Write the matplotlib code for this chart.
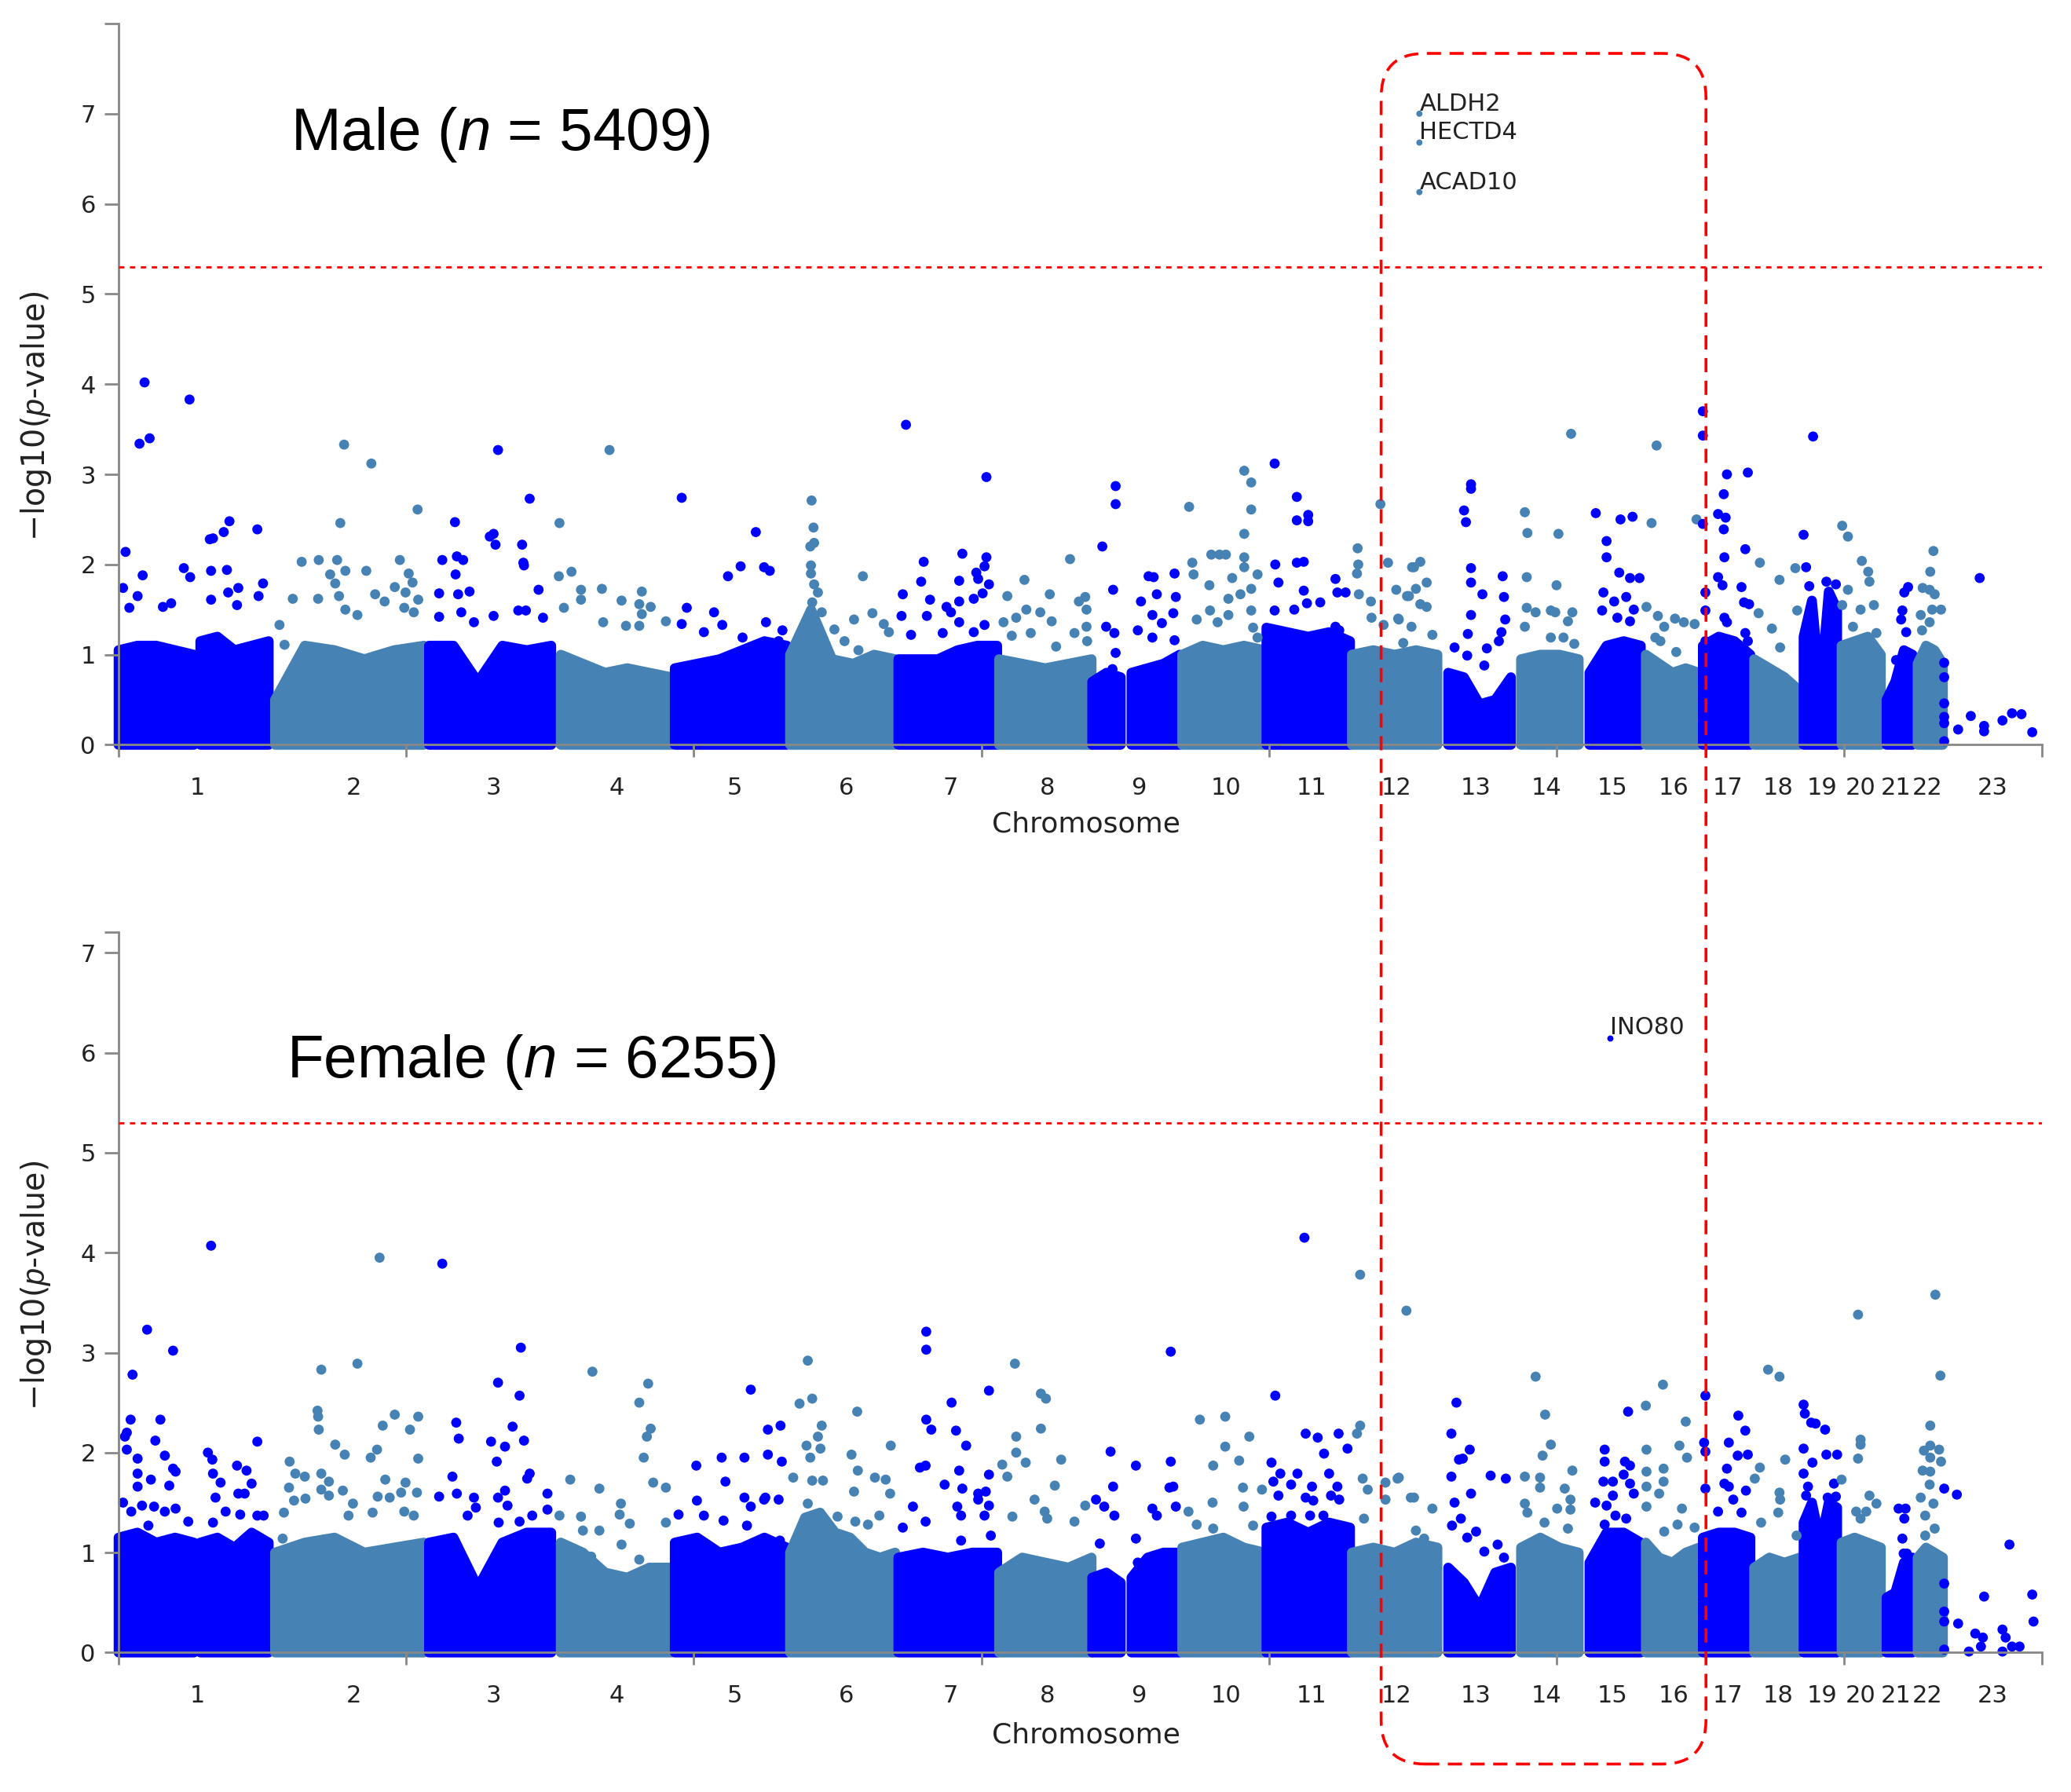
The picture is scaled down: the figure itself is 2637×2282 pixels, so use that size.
import numpy as np
import matplotlib
matplotlib.use("Agg")
import matplotlib.pyplot as plt
from matplotlib.patches import FancyBboxPatch
from matplotlib.transforms import IdentityTransform

plt.rcParams["font.family"] = ["DejaVu Sans"]
plt.rcParams["mathtext.fontset"] = "custom"
plt.rcParams["mathtext.rm"] = "Liberation Sans"
plt.rcParams["mathtext.it"] = "Liberation Sans:italic"

# chromosome sizes in Mb (hg19), 23 = X
chrom_names = [str(i) for i in range(1, 24)]
chrom_len = [249.3, 243.2, 198.0, 191.2, 180.9, 171.1, 159.1, 146.4, 141.2, 135.5, 135.0, 133.9,
             115.2, 107.3, 102.5, 90.4, 81.2, 78.1, 59.1, 63.0, 48.1, 51.3, 155.3]
threshold = 5.3  # -log10(5e-6)

# dense block of SNPs per chromosome: extent (genome Mb) and height of its top edge
core_start = [0, 129, 247, 490, 698, 878, 1060, 1231, 1390, 1537, 1599, 1679,
              1812, 1947, 2099, 2214, 2322, 2411, 2501, 2582, 2660, 2720, 2791, 2840]
core_end = [119, 237, 482, 683, 873, 1055, 1226, 1387, 1536, 1582, 1675, 1809,
            1944, 2082, 2198, 2305, 2403, 2495, 2576, 2654, 2713, 2782, 2832, 2880]
male_core = [
    [1.05, 1.1, 1.1, 1.05, 1.0], [1.15, 1.2, 1.05, 1.1, 1.15], [0.5, 1.1, 1.05, 0.95, 1.05, 1.1],
    [1.1, 1.1, 0.7, 1.1, 1.05, 1.1], [1.0, 0.9, 0.8, 0.85, 0.8, 0.75], [0.85, 0.9, 0.95, 1.05, 1.15, 1.1],
    [1.0, 1.5, 0.95, 0.9, 1.0, 0.95], [0.95, 0.95, 0.95, 1.05, 1.1, 1.1], [0.95, 0.9, 0.85, 0.9, 0.95],
    [0.7, 0.8, 0.75], [0.8, 0.85, 0.9, 1.0], [1.0, 1.1, 1.05, 1.1, 1.05],
    [1.3, 1.25, 1.2, 1.25, 1.15], [1.0, 1.05, 1.0, 1.05, 1.0], [0.8, 0.75, 0.45, 0.5, 0.75],
    [0.95, 1.0, 1.0, 0.95], [0.8, 1.1, 1.15, 1.1], [1.0, 0.9, 0.8, 0.85, 0.8],
    [1.1, 1.2, 1.15, 1.0], [0.95, 0.85, 0.75, 0.6], [1.2, 1.6, 0.6, 1.7, 1.5],
    [1.1, 1.15, 1.2, 1.0], [0.5, 0.7, 1.05, 1.0], [0.9, 1.1, 1.05, 0.9]]
female_core = [
    [1.15, 1.2, 1.1, 1.15, 1.1], [1.1, 1.15, 1.05, 1.2, 1.1], [1.0, 1.1, 1.15, 1.0, 1.05, 1.1],
    [1.1, 1.15, 0.65, 1.1, 1.2, 1.2], [1.1, 1.0, 0.8, 0.75, 0.85, 0.85], [1.1, 1.15, 1.0, 1.05, 1.15, 1.05],
    [1.0, 1.35, 1.4, 1.2, 1.15, 1.0, 0.95, 1.0], [0.95, 1.0, 0.95, 1.0, 1.0], [0.8, 0.95, 0.9, 0.85, 0.95],
    [0.75, 0.8, 0.7], [0.75, 0.95, 1.0, 1.0], [1.05, 1.1, 1.15, 1.05, 1.0],
    [1.25, 1.3, 1.2, 1.3, 1.25], [1.0, 1.05, 1.0, 1.1, 1.05], [0.85, 0.7, 0.45, 0.8, 0.85],
    [1.05, 1.15, 1.05, 1.0], [0.9, 1.2, 1.2, 1.1], [1.1, 0.95, 0.9, 1.0, 1.05],
    [1.15, 1.2, 1.2, 1.15], [0.85, 0.95, 0.9, 0.95], [1.3, 1.5, 1.1, 1.5, 1.45],
    [1.1, 1.15, 1.1, 1.05], [0.55, 0.6, 0.9, 0.95], [0.95, 1.05, 1.0, 0.95]]

# SNPs standing out above the dense block: (genome position in Mb, -log10 p)
male_snps = [
    (41, 4.02), (33, 3.34), (49, 3.40), (112, 3.83), (11, 2.14), (144, 2.28), (149, 2.29), (166, 2.36),
    (175, 2.48), (219, 2.39), (7, 1.74), (38, 1.88), (103, 1.96), (113, 1.86), (146, 1.93), (171, 1.94),
    (228, 1.79), (221, 1.65), (189, 1.74), (173, 1.69), (146, 1.61), (187, 1.55), (30, 1.65), (17, 1.52),
    (70, 1.53), (83, 1.57),
    (356, 3.33), (399, 3.12), (472, 2.61), (350, 2.46), (289, 2.03), (316, 2.05), (345, 2.05), (444, 2.05),
    (334, 1.89), (342, 1.79), (358, 1.93), (391, 1.93), (458, 1.90), (464, 1.80), (348, 1.65), (436, 1.75),
    (453, 1.69), (473, 1.61), (275, 1.62), (315, 1.62), (358, 1.50), (377, 1.44), (405, 1.67), (420, 1.59),
    (451, 1.52), (466, 1.47), (254, 1.33), (262, 1.11),
    (599, 3.27), (649, 2.73), (531, 2.47), (592, 2.34), (595, 2.22), (586, 2.31), (637, 2.22), (640, 1.99),
    (639, 2.02), (511, 2.05), (534, 2.09), (544, 2.05), (532, 1.89), (663, 1.72), (506, 1.68), (536, 1.67),
    (554, 1.70), (631, 1.49), (643, 1.49), (506, 1.42), (592, 1.43), (670, 1.41), (541, 1.47), (561, 1.36),
    (775, 3.27), (696, 2.46), (695, 1.87), (715, 1.92), (730, 1.72), (763, 1.73), (826, 1.70), (730, 1.61),
    (794, 1.60), (822, 1.56), (840, 1.53), (703, 1.52), (864, 1.37), (765, 1.36), (801, 1.32), (822, 1.32),
    (826, 1.45),
    (889, 2.74), (1006, 2.36), (982, 1.98), (1019, 1.97), (1028, 1.93), (962, 1.87), (897, 1.52), (940, 1.47),
    (889, 1.34), (924, 1.25), (953, 1.33), (985, 1.19), (1022, 1.36), (1048, 1.27), (1042, 1.15),
    (1094, 2.71), (1097, 2.41), (1092, 2.20), (1098, 2.24), (1093, 1.99), (1093, 1.90), (1098, 1.78),
    (1104, 1.69), (1095, 1.58), (1110, 1.47), (1175, 1.87), (1130, 1.28), (1161, 1.39), (1146, 1.15),
    (1190, 1.46), (1208, 1.34), (1216, 1.25), (1070, 1.08), (1168, 1.05),
    (1243, 3.55), (1370, 2.97), (1332, 2.12), (1271, 2.03), (1370, 2.08), (1367, 1.98), (1267, 1.81),
    (1327, 1.82), (1354, 1.91), (1357, 1.84), (1374, 1.78), (1238, 1.67), (1364, 1.68), (1236, 1.43),
    (1276, 1.43), (1281, 1.61), (1307, 1.53), (1327, 1.59), (1314, 1.47), (1350, 1.62), (1367, 1.33),
    (1350, 1.25), (1251, 1.22), (1301, 1.24), (1327, 1.36),
    (1502, 2.06), (1430, 1.83), (1470, 1.67), (1403, 1.65), (1433, 1.50), (1455, 1.47), (1526, 1.64),
    (1516, 1.59), (1528, 1.50), (1397, 1.36), (1417, 1.41), (1473, 1.37), (1509, 1.24), (1528, 1.31),
    (1529, 1.15), (1410, 1.21), (1440, 1.24), (1480, 1.09),
    (1553, 2.20), (1574, 2.87), (1574, 2.67), (1570, 1.72), (1559, 1.31), (1572, 1.24), (1574, 1.02),
    (1569, 0.84), (1614, 1.59), (1626, 1.87), (1634, 1.86), (1667, 1.90), (1669, 1.64), (1639, 1.67),
    (1632, 1.44), (1647, 1.35), (1665, 1.46), (1609, 1.27), (1632, 1.19), (1667, 1.16),
    (1690, 2.64), (1777, 3.04), (1788, 2.91), (1788, 2.61), (1777, 2.34), (1695, 2.02), (1725, 2.11),
    (1738, 2.11), (1748, 2.11), (1777, 2.08), (1777, 1.97), (1697, 1.89), (1758, 1.85), (1798, 1.89),
    (1788, 1.73), (1771, 1.67), (1722, 1.77), (1752, 1.62), (1723, 1.49), (1788, 1.49), (1752, 1.44),
    (1702, 1.39), (1735, 1.36), (1791, 1.30), (1798, 1.19),
    (1825, 3.12), (1860, 2.75), (1860, 2.49), (1878, 2.55), (1878, 2.48), (1826, 2.00), (1860, 2.02),
    (1871, 2.03), (1921, 1.84), (1924, 1.69), (1937, 1.69), (1825, 1.49), (1831, 1.80), (1871, 1.71),
    (1876, 1.57), (1897, 1.58), (1856, 1.50), (1921, 1.31), (1927, 1.27), (1904, 1.15),
    (1992, 2.67), (1956, 2.18), (1957, 2.00), (1955, 1.90), (1958, 1.67), (1977, 1.59), (1978, 1.41),
    (2004, 2.02), (2017, 1.72), (2037, 1.65), (2042, 1.97), (2020, 1.40), (1997, 1.33), (2055, 2.03),
    (2045, 1.97), (2048, 1.73), (2065, 1.80), (2034, 1.65), (2055, 1.56), (2065, 1.53), (2021, 1.39),
    (2074, 1.22), (2028, 1.13), (2041, 1.31),
    (2135, 2.89), (2135, 2.84), (2124, 2.60), (2127, 2.47), (2135, 1.96), (2135, 1.80), (2185, 1.87),
    (2187, 1.64), (2153, 1.67), (2189, 1.39), (2135, 1.44), (2130, 1.23), (2109, 1.08), (2160, 1.07),
    (2129, 0.99), (2156, 0.88), (2183, 1.25), (2179, 1.15),
    (2293, 3.45), (2220, 2.58), (2224, 2.35), (2273, 2.34), (2223, 1.86), (2270, 1.77), (2223, 1.52),
    (2237, 1.47), (2261, 1.49), (2268, 1.47), (2295, 1.47), (2288, 1.37), (2298, 1.12), (2220, 1.31),
    (2261, 1.19), (2281, 1.19),
    (2332, 2.57), (2371, 2.50), (2390, 2.53), (2349, 2.26), (2349, 2.08), (2369, 1.91), (2386, 1.85),
    (2401, 1.85), (2344, 1.69), (2361, 1.59), (2380, 1.64), (2392, 1.50), (2342, 1.49), (2366, 1.41),
    (2386, 1.37),
    (2428, 3.32), (2420, 2.46), (2491, 2.50), (2412, 1.53), (2430, 1.43), (2440, 1.31), (2457, 1.40),
    (2471, 1.36), (2488, 1.34), (2426, 1.19), (2434, 1.15), (2459, 1.03),
    (2501, 3.70), (2501, 3.43), (2539, 3.00), (2572, 3.02), (2534, 2.78), (2525, 2.56), (2537, 2.52),
    (2534, 2.39), (2501, 2.45), (2568, 2.17), (2535, 2.08), (2525, 1.86), (2532, 1.77), (2562, 1.75),
    (2505, 1.69), (2566, 1.58), (2574, 1.56), (2505, 1.49), (2535, 1.41), (2539, 1.36), (2568, 1.24),
    (2572, 1.15), (2505, 1.15),
    (2591, 2.02), (2622, 1.83), (2610, 1.29), (2623, 1.08), (2650, 1.49), (2589, 1.46), (2647, 1.96),
    (2675, 3.42), (2660, 2.33), (2664, 1.97), (2669, 1.76), (2696, 1.81), (2711, 1.78),
    (2721, 2.43), (2730, 2.31), (2752, 2.04), (2762, 1.92), (2764, 1.81), (2730, 1.72), (2721, 1.55),
    (2750, 1.50), (2771, 1.55), (2775, 1.24), (2738, 1.31),
    (2825, 1.75), (2819, 1.69), (2816, 1.49), (2814, 1.39), (2822, 1.25), (2806, 0.94),
    (2865, 2.15), (2860, 1.92), (2848, 1.74), (2859, 1.72), (2867, 1.67), (2863, 1.50), (2877, 1.50),
    (2845, 1.44), (2859, 1.36), (2847, 1.27),
    (2882, 0.91), (2882, 0.75), (2882, 0.46), (2882, 0.31), (2882, 0.24), (2882, 0.04), (2904, 0.17),
    (2924, 0.32), (2938, 1.85), (2945, 0.21), (2945, 0.15), (2974, 0.27), (2989, 0.35), (3004, 0.34),
    (3021, 0.14)]

female_snps = [
    (146, 4.07), (45, 3.23), (86, 3.02), (22, 2.78), (19, 2.33), (66, 2.33), (13, 2.20), (10, 2.16),
    (58, 2.12), (13, 2.03), (30, 1.94), (73, 1.97), (86, 1.84), (90, 1.81), (30, 1.79), (51, 1.73),
    (80, 1.67), (30, 1.66), (141, 2.00), (148, 1.93), (149, 1.79), (161, 1.70), (187, 1.87), (202, 1.82),
    (210, 1.69), (219, 2.11), (153, 1.55), (189, 1.59), (199, 1.59), (169, 1.41), (192, 1.38), (219, 1.37),
    (229, 1.37), (149, 1.30), (7, 1.50), (20, 1.41), (37, 1.47), (56, 1.46), (73, 1.41), (90, 1.44),
    (47, 1.27), (110, 1.31), (108, 1.11),
    (412, 3.95), (377, 2.89), (320, 2.83), (314, 2.42), (315, 2.36), (316, 2.23), (436, 2.38), (473, 2.36),
    (417, 2.27), (460, 2.23), (342, 2.08), (357, 1.98), (398, 1.95), (408, 2.03), (473, 1.94), (270, 1.91),
    (279, 1.79), (294, 1.76), (320, 1.79), (332, 1.71), (421, 1.73), (453, 1.70), (269, 1.65), (320, 1.63),
    (332, 1.57), (354, 1.62), (370, 1.49), (409, 1.56), (428, 1.55), (446, 1.60), (471, 1.60), (277, 1.52),
    (295, 1.54), (261, 1.40), (259, 1.14), (363, 1.37), (401, 1.40), (451, 1.41), (466, 1.37),
    (511, 3.89), (635, 3.05), (599, 2.70), (633, 2.57), (533, 2.30), (537, 2.14), (622, 2.26), (640, 2.12),
    (588, 2.11), (610, 2.06), (597, 1.91), (649, 1.79), (645, 1.74), (527, 1.76), (506, 1.56), (534, 1.59),
    (561, 1.55), (599, 1.55), (610, 1.62), (677, 1.59), (564, 1.45), (551, 1.37), (614, 1.47), (677, 1.43),
    (653, 1.37), (600, 1.30), (633, 1.31),
    (748, 2.81), (836, 2.69), (822, 2.50), (840, 2.24), (834, 2.16), (829, 1.95), (844, 1.70), (864, 1.65),
    (713, 1.73), (759, 1.64), (793, 1.49), (791, 1.38), (807, 1.29), (864, 1.30), (696, 1.37), (730, 1.36),
    (733, 1.22), (759, 1.22), (794, 1.08), (746, 0.96), (822, 0.93),
    (998, 2.63), (1025, 2.23), (1025, 1.98), (912, 1.87), (952, 1.95), (988, 1.95), (958, 1.71), (913, 1.52),
    (988, 1.55), (998, 1.46), (1021, 1.55), (884, 1.38), (924, 1.37), (955, 1.32), (992, 1.27), (1045, 2.27),
    (1047, 1.91), (1019, 1.53), (1042, 1.53), (1044, 1.12),
    (1088, 2.92), (1095, 2.54), (1075, 2.49), (1110, 2.27), (1104, 2.16), (1086, 2.07), (1108, 2.04),
    (1166, 2.41), (1157, 1.98), (1167, 1.82), (1219, 2.07), (1194, 1.75), (1211, 1.73), (1161, 1.61),
    (1218, 1.59), (1065, 1.75), (1092, 1.95), (1095, 1.72), (1112, 1.72), (1088, 1.49), (1135, 1.36),
    (1163, 1.31), (1201, 1.37), (1183, 1.28),
    (1275, 3.21), (1275, 3.03), (1374, 2.62), (1315, 2.50), (1275, 2.33), (1283, 2.23), (1322, 2.22),
    (1338, 2.07), (1265, 1.85), (1274, 1.87), (1327, 1.82), (1374, 1.78), (1304, 1.68), (1332, 1.64),
    (1357, 1.59), (1369, 1.61), (1254, 1.46), (1324, 1.46), (1357, 1.53), (1374, 1.47), (1330, 1.37),
    (1367, 1.37), (1274, 1.31), (1238, 1.25), (1330, 1.12), (1377, 1.17),
    (1415, 2.89), (1456, 2.59), (1464, 2.54), (1417, 2.16), (1456, 2.24), (1417, 2.00), (1432, 1.90),
    (1395, 1.88), (1403, 1.76), (1488, 1.93), (1478, 1.67), (1446, 1.53), (1411, 1.36), (1462, 1.41),
    (1466, 1.34), (1526, 1.47), (1509, 1.31),
    (1566, 2.01), (1543, 1.53), (1556, 1.46), (1570, 1.66), (1572, 1.37), (1549, 1.09), (1661, 3.01),
    (1661, 1.91), (1606, 1.87), (1659, 1.65), (1665, 1.66), (1632, 1.44), (1669, 1.46), (1639, 1.37),
    (1606, 1.14), (1609, 0.90),
    (1707, 2.33), (1747, 2.36), (1747, 2.06), (1785, 2.16), (1728, 1.87), (1769, 1.92), (1727, 1.50),
    (1689, 1.41), (1776, 1.46), (1805, 1.63), (1775, 1.65), (1702, 1.28), (1728, 1.24), (1791, 1.27),
    (1872, 4.15), (1826, 2.57), (1874, 2.19), (1893, 2.15), (1926, 2.19), (1903, 1.99), (1940, 2.04),
    (1820, 1.90), (1834, 1.79), (1861, 1.79), (1823, 1.71), (1851, 1.68), (1884, 1.66), (1911, 1.79),
    (1924, 1.66), (1831, 1.57), (1874, 1.55), (1886, 1.52), (1914, 1.57), (1927, 1.53), (1820, 1.36),
    (1851, 1.37), (1881, 1.37), (1902, 1.37),
    (1960, 3.78), (2033, 3.42), (1960, 2.27), (1955, 2.19), (1964, 1.74), (1972, 1.63), (2000, 1.70),
    (2019, 1.74), (1966, 1.34), (2000, 1.53), (2040, 1.55), (2021, 1.75), (2045, 1.55), (2074, 1.44),
    (2048, 1.22), (2061, 1.14), (2072, 1.02),
    (2112, 2.50), (2104, 2.19), (2133, 2.03), (2122, 1.94), (2116, 1.93), (2104, 1.76), (2166, 1.77),
    (2190, 1.74), (2135, 1.59), (2109, 1.50), (2119, 1.34), (2105, 1.27), (2143, 1.21), (2129, 1.15),
    (2177, 1.08), (2187, 0.95), (2156, 1.01),
    (2237, 2.76), (2252, 2.38), (2261, 2.08), (2248, 1.97), (2295, 1.82), (2220, 1.76), (2244, 1.75),
    (2244, 1.65), (2283, 1.64), (2220, 1.49), (2224, 1.40), (2292, 1.53), (2292, 1.43), (2271, 1.44),
    (2251, 1.30), (2288, 1.24),
    (2383, 2.41), (2346, 2.03), (2346, 1.91), (2378, 1.91), (2386, 1.87), (2344, 1.71), (2359, 1.71),
    (2376, 1.78), (2386, 1.69), (2392, 1.59), (2359, 1.57), (2331, 1.50), (2349, 1.47), (2363, 1.37),
    (2346, 1.28), (2380, 1.34),
    (2438, 2.68), (2474, 2.31), (2411, 2.47), (2464, 2.07), (2476, 1.95), (2412, 2.03), (2412, 1.81),
    (2439, 1.84), (2439, 1.71), (2412, 1.66), (2432, 1.59), (2412, 1.46), (2468, 1.44), (2461, 1.28),
    (2488, 1.25), (2440, 1.21),
    (2505, 2.57), (2503, 2.10), (2505, 2.01), (2542, 2.10), (2557, 2.37), (2568, 2.22), (2556, 1.97),
    (2572, 1.98), (2539, 1.84), (2505, 1.64), (2535, 1.69), (2542, 1.66), (2569, 1.62), (2549, 1.53),
    (2562, 1.40), (2525, 1.41),
    (2604, 2.83), (2622, 2.76), (2591, 1.85), (2583, 1.74), (2631, 1.93), (2622, 1.60), (2623, 1.53),
    (2620, 1.40), (2593, 1.30), (2649, 1.17),
    (2660, 2.48), (2662, 2.39), (2672, 2.30), (2679, 2.29), (2694, 2.23), (2660, 2.04), (2674, 1.90),
    (2696, 1.98), (2713, 1.98), (2660, 1.79), (2667, 1.66), (2708, 1.69), (2698, 1.55), (2711, 1.56),
    (2664, 1.57),
    (2746, 3.38), (2750, 2.13), (2750, 2.08), (2746, 1.94), (2720, 1.73), (2764, 1.57), (2775, 1.49),
    (2743, 1.41), (2750, 1.34), (2759, 1.41),
    (2810, 1.44), (2821, 1.44), (2819, 1.34), (2816, 1.14), (2818, 0.99), (2799, 0.47), (2823, 0.99),
    (2868, 3.58), (2876, 2.77), (2860, 2.27), (2850, 2.02), (2860, 2.07), (2874, 2.03), (2877, 1.91),
    (2860, 1.95), (2848, 1.82), (2860, 1.81), (2859, 1.68), (2845, 1.55), (2865, 1.49), (2852, 1.37),
    (2867, 1.24), (2852, 1.17),
    (2882, 1.64), (2902, 1.58), (2882, 0.69), (2882, 0.41), (2882, 0.31), (2882, 0.03), (2904, 0.29),
    (2945, 0.56), (2931, 0.19), (2943, 0.15), (2940, 0.06), (2921, 0.01), (2985, 1.08), (2974, 0.23),
    (2979, 0.15), (2974, 0.01), (2989, 0.06), (3001, 0.06), (3021, 0.58), (3023, 0.31)]

# genome-wide significant hits with gene names
male_hit_pos = [2053.5, 2053.5, 2053.5]
male_hit_val = [7.00, 6.68, 6.13]
male_hit_gene = ["ALDH2", "HECTD4", "ACAD10"]
female_hit_pos = [2355]
female_hit_val = [6.15]
female_hit_gene = ["INO80"]

chrom_start = np.concatenate([[0], np.cumsum(chrom_len)[:-1]])
chrom_mid = chrom_start + np.array(chrom_len) / 2
genome_end = float(np.sum(chrom_len))
axis_ticks = [0, 454, 908, 1362, 1816, 2270, 2724, genome_end]

W, H = 2637, 2282
BLUE, STEEL = "#0000FF", "#4682B4"
GREY = "#888888"


def chrom_color(pos):
    idx = np.searchsorted(chrom_start, pos, side="right") - 1
    return BLUE if idx % 2 == 0 else STEEL


def draw_panel(ax, core, snps, hit_pos, hit_val, hit_gene, ytop, xlab_off):
    for s, e, h in zip(core_start, core_end, core):
        c = chrom_color((s + e) / 2)
        xs = np.concatenate([[s], np.linspace(s, e, len(h)), [e]])
        ys = np.concatenate([[0], h, [0]])
        ax.fill(xs, ys, facecolor=c, edgecolor=c, lw=9, joinstyle="round",
                clip_on=False, zorder=1)
    pos = [p for p, v in snps]
    val = [v for p, v in snps]
    ax.scatter(pos, val, s=85, c=[chrom_color(p) for p in pos], linewidths=0,
               clip_on=False, zorder=2)
    ax.scatter(hit_pos, hit_val, s=32, c=[chrom_color(p) for p in hit_pos],
               linewidths=0, clip_on=False, zorder=2)
    for p, v, g in zip(hit_pos, hit_val, hit_gene):
        ax.annotate(g, (p, v), xytext=(0, 3), textcoords="offset points",
                    fontsize=22, color="#222222", va="baseline", ha="left")

    ax.axhline(threshold, color="red", lw=2, linestyle=(0, (2.5, 2.5)), zorder=3)

    ax.set_xlim(0, genome_end)
    ax.set_ylim(0, ytop)
    for side in ["top", "right"]:
        ax.spines[side].set_visible(False)
    for side in ["left", "bottom"]:
        ax.spines[side].set_color(GREY)
        ax.spines[side].set_linewidth(2)

    ax.set_xticks(axis_ticks, labels=[""] * len(axis_ticks))
    ax.set_xticks(chrom_mid, labels=chrom_names, minor=True)
    ax.tick_params(axis="x", which="major", length=11.5, width=2, color=GREY)
    ax.tick_params(axis="x", which="minor", length=0, pad=29, labelsize=22,
                   labelcolor="#222222")
    ax.set_yticks(list(range(8)) + [ytop], labels=[str(i) for i in range(8)] + [""])
    ax.tick_params(axis="y", length=13, width=2, color=GREY, pad=8, labelsize=22,
                   labelcolor="#222222")
    ax.annotate("Chromosome", xy=(0.5, 0), xycoords="axes fraction",
                xytext=(5.5, xlab_off), textcoords="offset points",
                fontsize=26, color="#222222", ha="center", va="center")


fig = plt.figure(figsize=(W / 100, H / 100), dpi=100)
ax_m = fig.add_axes([151 / W, 1 - 948.5 / H, 2449 / W, 918.5 / H])
ax_f = fig.add_axes([151 / W, 1 - 2104.4 / H, 2449 / W, 917.8 / H])

draw_panel(ax_m, male_core, male_snps, male_hit_pos, male_hit_val, male_hit_gene, 8, -73)
draw_panel(ax_f, female_core, female_snps, female_hit_pos, female_hit_val, female_hit_gene, 7.21, -75.5)

fig.text(370 / W, 1 - 190.8 / H, r"Male ($\mathit{n}$ = 5409)", family="Liberation Sans",
         fontsize=55, ha="left", va="baseline")
fig.text(365 / W, 1 - 1372 / H, r"Female ($\mathit{n}$ = 6255)", family="Liberation Sans",
         fontsize=55, ha="left", va="baseline")
for yc in [530, 1637]:
    fig.text(46 / W, 1 - yc / H, "\u2212log10($\\mathit{p}$-value)", rotation=90,
             fontsize=28.5, color="#222222", ha="center", va="center")

# rounded dashed box around the chr12-16 region (pixel coordinates)
box = FancyBboxPatch((1758.6, 35.6), 2172.2 - 1758.6, 2214 - 35.6,
                     boxstyle="round,pad=0,rounding_size=56", transform=IdentityTransform(),
                     fill=False, edgecolor="red", lw=2.6, linestyle=(0, (5, 3)), zorder=10)
fig.add_artist(box)

fig.savefig("out.png", dpi=100)
